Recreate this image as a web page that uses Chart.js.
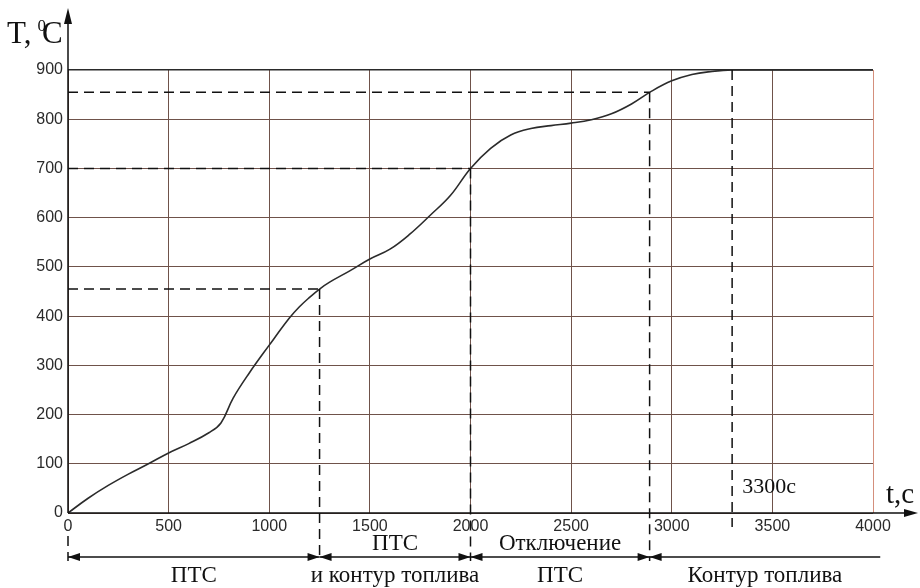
<!DOCTYPE html>
<html>
<head>
<meta charset="utf-8">
<script src="https://cdn.jsdelivr.net/npm/chart.js@4.4.1/dist/chart.umd.min.js"></script>
<style>
  html, body { margin: 0; padding: 0; background: #ffffff; }
  #wrap { width: 920px; height: 588px; position: relative; }
</style>
</head>
<body>
<div id="wrap"><canvas id="c" width="920" height="588"></canvas></div>
<script>
// ---- data ----
const times = [0, 100, 200, 300, 400, 500, 600, 700, 760, 820, 900, 1000, 1100, 1150, 1200, 1250, 1300, 1400, 1500, 1600, 1700, 1800, 1900, 2000, 2100, 2200, 2300, 2400, 2500, 2600, 2700, 2800, 2900, 3000, 3100, 3200, 3300, 3600, 4000];
const temps = [0, 30, 56, 79, 100, 122, 141, 163, 183, 233, 284, 341, 396, 419, 438, 455, 469, 492, 516, 536, 567, 605, 645, 700, 741, 768, 781, 787, 792, 799, 811, 831, 857, 878, 891, 897, 900, 900, 900];
const xTickValues = [0, 500, 1000, 1500, 2000, 2500, 3000, 3500, 4000];
const yTickValues = [0, 100, 200, 300, 400, 500, 600, 700, 800, 900];
// phase boundaries (s) and temperatures reached there (°C)
const phaseTimes = [0, 1250, 2000, 2890];
const phaseTemps = [0, 455, 700, 855];
const phaseEnd = 4036;
const holdTime = 3300;
const holdTemp = 900;
const holdLabel = '3300с';
const phaseTopLabels = ['', 'ПТС', 'Отключение', ''];
const phaseBottomLabels = ['ПТС', 'и контур топлива', 'ПТС', 'Контур топлива'];
const yAxisTitle = ['T,', '0', 'C'];
const xAxisTitle = 't,c';

const SERIF = '"Liberation Serif", "Times New Roman", serif';
const SANS = '"Liberation Sans", Arial, sans-serif';

const overlay = {
  id: 'overlay',
  afterDraw(chart) {
    const ctx = chart.ctx;
    const xs = chart.scales.x, ys = chart.scales.y;
    const L = chart.chartArea.left, B = chart.chartArea.bottom;
    const px = v => xs.getPixelForValue(v);
    const py = v => ys.getPixelForValue(v);
    const arrowRowY = 557;
    ctx.save();

    // axes arrows
    ctx.strokeStyle = '#111';
    ctx.fillStyle = '#111';
    ctx.lineWidth = 1.5;
    ctx.beginPath();
    ctx.moveTo(L, B); ctx.lineTo(L, 14);
    ctx.moveTo(L, B); ctx.lineTo(912, B);
    ctx.stroke();
    ctx.beginPath();
    ctx.moveTo(L, 8); ctx.lineTo(L - 4, 24); ctx.lineTo(L + 4, 24); ctx.closePath(); ctx.fill();
    ctx.beginPath();
    ctx.moveTo(918, B); ctx.lineTo(904, B - 4); ctx.lineTo(904, B + 4); ctx.closePath(); ctx.fill();

    // dashed guide lines
    ctx.setLineDash([10, 6]);
    ctx.lineWidth = 1.5;
    ctx.strokeStyle = '#111';
    for (let i = 1; i < phaseTimes.length; i++) {
      const x = px(phaseTimes[i]), y = py(phaseTemps[i]);
      ctx.beginPath();
      ctx.moveTo(L, y); ctx.lineTo(x, y);
      ctx.moveTo(x, y); ctx.lineTo(x, arrowRowY + 4);
      ctx.stroke();
    }
    // dashed at t=0 below the axis
    ctx.beginPath();
    ctx.moveTo(px(phaseTimes[0]), 536); ctx.lineTo(px(phaseTimes[0]), arrowRowY + 4);
    ctx.stroke();
    // hold time line
    ctx.beginPath();
    ctx.moveTo(px(holdTime), py(holdTemp)); ctx.lineTo(px(holdTime), 527);
    ctx.stroke();
    ctx.setLineDash([]);

    // phase arrows
    ctx.lineWidth = 1.3;
    const head = (x, dir) => {
      ctx.beginPath();
      ctx.moveTo(x, arrowRowY);
      ctx.lineTo(x - dir * 12, arrowRowY - 4);
      ctx.lineTo(x - dir * 12, arrowRowY + 4);
      ctx.closePath(); ctx.fill();
    };
    for (let i = 0; i < phaseTimes.length; i++) {
      const x0 = px(phaseTimes[i]);
      const last = i === phaseTimes.length - 1;
      const x1 = last ? px(phaseEnd) : px(phaseTimes[i + 1]);
      ctx.beginPath(); ctx.moveTo(x0, arrowRowY); ctx.lineTo(x1, arrowRowY); ctx.stroke();
      head(x0, -1);
      if (!last) head(x1, 1);
    }

    // phase labels
    ctx.fillStyle = '#111';
    ctx.textAlign = 'center';
    ctx.textBaseline = 'alphabetic';
    ctx.font = '23px ' + SERIF;
    for (let i = 0; i < phaseTimes.length; i++) {
      const x0 = px(phaseTimes[i]);
      const x1 = i === phaseTimes.length - 1 ? px(phaseEnd) : px(phaseTimes[i + 1]);
      const cx = (x0 + x1) / 2;
      if (phaseTopLabels[i]) ctx.fillText(phaseTopLabels[i], cx, 550);
      ctx.fillText(phaseBottomLabels[i], cx, 582);
    }

    // hold label
    ctx.textAlign = 'left';
    ctx.font = '22px ' + SERIF;
    ctx.fillText(holdLabel, px(holdTime) + 10, 493);

    // axis titles
    ctx.font = '29px ' + SERIF;
    ctx.fillText(xAxisTitle, 886, 503);
    ctx.font = '31px ' + SERIF;
    let x = 7;
    ctx.fillText(yAxisTitle[0], x, 43);
    x += ctx.measureText(yAxisTitle[0]).width + 6;
    ctx.font = '17px ' + SERIF;
    ctx.fillText(yAxisTitle[1], x, 31);
    x += ctx.measureText(yAxisTitle[1]).width - 4;
    ctx.font = '31px ' + SERIF;
    ctx.fillText(yAxisTitle[2], x, 43);
    ctx.restore();
  }
};

new Chart(document.getElementById('c'), {
  type: 'line',
  data: {
    datasets: [{
      data: times.map((t, i) => ({ x: t, y: temps[i] })),
      borderColor: '#2b2b2b',
      borderWidth: 1.6,
      pointRadius: 0,
      tension: 0.4,
      fill: false
    }]
  },
  options: {
    responsive: false,
    animation: false,
    events: [],
    layout: { padding: { left: 0, right: 47, top: 70, bottom: 45 } },
    plugins: { legend: { display: false }, tooltip: { enabled: false }, title: { display: false } },
    scales: {
      x: {
        type: 'linear', min: 0, max: 4000,
        afterBuildTicks: s => { s.ticks = xTickValues.map(v => ({ value: v })); },
        afterFit: s => { s.height = 30; },
        ticks: { color: '#2a2a2a', font: { family: SANS, size: 16 }, padding: 4, maxRotation: 0, autoSkip: false, callback: v => String(v) },
        grid: {
          drawTicks: false,
          lineWidth: 1,
          color: c => c.tick && c.tick.value === 4000 ? '#d48f7c' : '#6f524a'
        },
        border: { display: false }
      },
      y: {
        min: 0, max: 900,
        afterBuildTicks: s => { s.ticks = yTickValues.map(v => ({ value: v })); },
        afterFit: s => { s.width = 68; },
        ticks: { color: '#2a2a2a', font: { family: SANS, size: 16 }, padding: 5, autoSkip: false, callback: v => String(v) },
        grid: {
          drawTicks: false,
          lineWidth: c => c.tick && c.tick.value === 900 ? 1.5 : 1,
          color: c => c.tick && c.tick.value === 900 ? '#2a2a2a' : '#6f524a'
        },
        border: { display: false }
      }
    }
  },
  plugins: [overlay]
});
</script>
</body>
</html>
